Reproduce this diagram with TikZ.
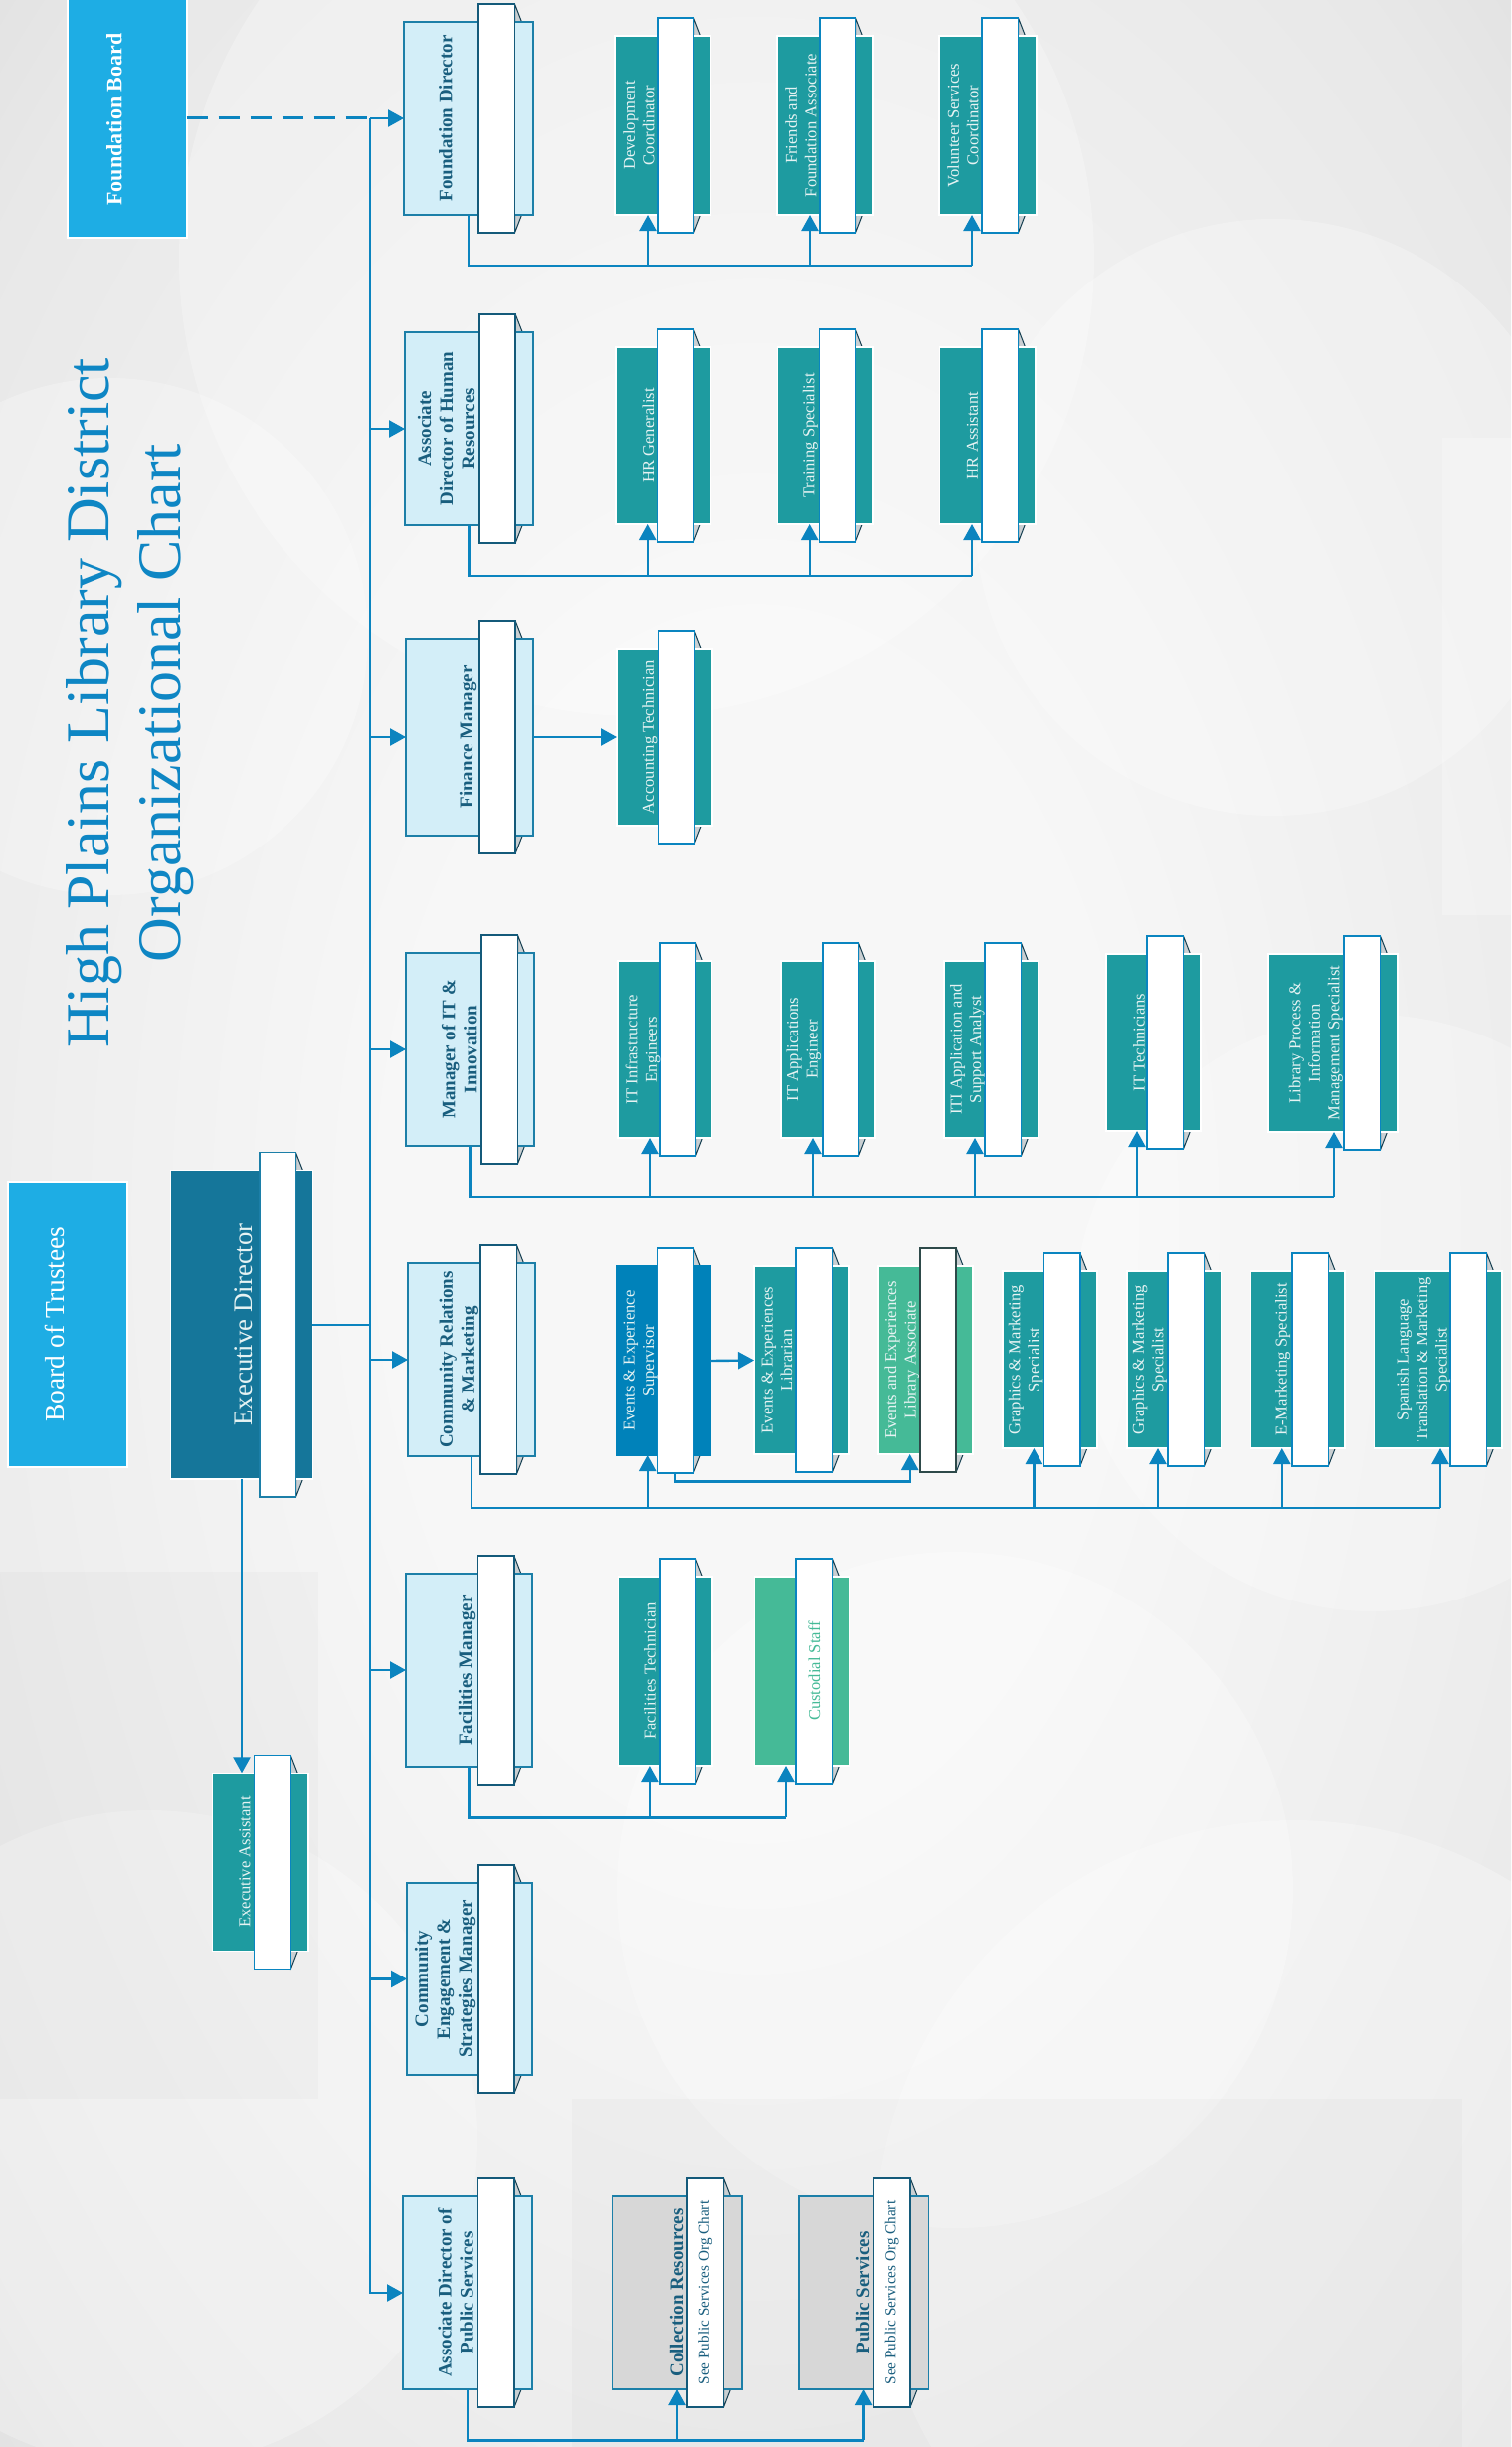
\documentclass[tikz,border=0pt]{standalone}
\usepackage{fontspec}
\setmainfont{Liberation Serif}
\usetikzlibrary{arrows.meta}
\definecolor{cLine}{HTML}{0B84BF}
\definecolor{cMgrFill}{HTML}{D3EEF8}
\definecolor{cMgrDraw}{HTML}{1C7FA8}
\definecolor{cMgrWhite}{HTML}{145A7A}
\definecolor{cMgrText}{HTML}{195E7E}
\definecolor{cTeal}{HTML}{1E9BA0}
\definecolor{cSubText}{HTML}{E6F3F3}
\definecolor{cBlueW}{HTML}{0A85C0}
\definecolor{cSup}{HTML}{0082BA}
\definecolor{cGreen}{HTML}{45BA97}
\definecolor{cDarkW}{HTML}{2E4A4A}
\definecolor{cGray}{HTML}{D7D7D7}
\definecolor{cSky}{HTML}{1EADE4}
\definecolor{cED}{HTML}{15769A}
\definecolor{cTitle}{HTML}{0E86C4}
\definecolor{cSide}{HTML}{C9CFD2}
\definecolor{cSideLine}{HTML}{143E50}
\definecolor{bgin}{HTML}{F7F7F7}
\definecolor{bgmid}{HTML}{E8E8E8}
\definecolor{bgout}{HTML}{CDCDCD}
\pgfdeclareradialshading{bgshade}{\pgfpoint{0bp}{0bp}}{color(0bp)=(bgin); color(12bp)=(bgin); color(32bp)=(bgmid); color(50bp)=(bgout)}
% #1 name, #2 kind, #3 x1, #4 y1, #5 x2, #6 y2, #7 white x1, #8 text x, #9 text
\newcommand{\orgunit}[9]{%
  \draw[side] ({#7+36.5},{#4-18}) -- ({#7+43.5},{#4}) -- ({#7+43.5},{#6}) -- ({#7+36.5},{#6+18}) -- cycle;
  \node[#2 box, minimum width=(#5-#3)*1pt, minimum height=(#6-#4)*1pt] (#1) at ({(#3+#5)/2},{(#4+#6)/2}) {};
  \node[#2 white, minimum width=36.5pt, minimum height=(#6-#4+36)*1pt] (#1-w) at ({#7+18.25},{(#4+#6)/2}) {};
  \node[#2 text, rotate=90] (#1-t) at ({#8},{(#4+#6)/2}) {#9};
  \coordinate (#1-a) at ({#7-10},{#6});
}
\begin{document}
\begin{tikzpicture}[x=1pt,y=-1pt,
  box base/.style={inner sep=0pt, outer sep=0pt},
  mgr box/.style={box base, fill=cMgrFill, draw=cMgrDraw, line width=1.4pt},
  mgr white/.style={box base, fill=white, draw=cMgrWhite, line width=1.6pt},
  mgr text/.style={text=cMgrText, font=\fontsize{19}{22}\selectfont\bfseries, align=center, inner sep=0pt},
  sub box/.style={box base, fill=cTeal, draw=white, line width=1.3pt},
  sub white/.style={box base, fill=white, draw=cBlueW, line width=1.4pt},
  sub text/.style={text=cSubText, font=\fontsize{16.6}{19.5}\selectfont, align=center, inner sep=0pt},
  sup box/.style={box base, fill=cSup, draw=cSup, line width=1.3pt},
  sup white/.style={sub white},
  sup text/.style={sub text},
  grn box/.style={box base, fill=cGreen, draw=white, line width=1.3pt},
  grn white/.style={sub white},
  grn text/.style={sub text, text=cGreen},
  grnd box/.style={grn box},
  grnd white/.style={box base, fill=white, draw=cDarkW, line width=1.8pt},
  grnd text/.style={sub text},
  gray box/.style={box base, fill=cGray, draw=cMgrDraw, line width=1.4pt},
  gray white/.style={mgr white},
  gray text/.style={mgr text},
  ed box/.style={box base, fill=cED, draw=white, line width=1.5pt},
  ed white/.style={box base, fill=white, draw=cMgrDraw, line width=1.2pt},
  ed text/.style={text=cSubText, font=\fontsize{26.8}{30}\selectfont, align=center, inner sep=0pt},
  sky box/.style={box base, fill=cSky, draw=white, line width=2pt},
  note text/.style={text=cMgrText, font=\fontsize{15.2}{18}\selectfont, inner sep=0pt},
  side/.style={fill=cSide, draw=cSideLine, line width=1pt, line join=round},
  conn/.style={draw=cLine, line width=2.4pt},
  arr/.style={conn, -{Triangle[length=16pt,width=17pt]}},
  dashline/.style={conn, dash pattern=on 21pt off 11pt},
  title/.style={text=cTitle, font=\fontsize{62}{71.7}\selectfont, align=center, inner sep=0pt},
  bubble/.style={fill=white, fill opacity=0.25, draw=none},
  shadowbubble/.style={fill=black, fill opacity=0.02, draw=none}
]
\useasboundingbox (0,0) rectangle (1519,2460);
% background
\shade[shading=bgshade] (0,0) rectangle (1519,2460);
\fill[bubble] (640,260) circle (460);
\fill[bubble] (1280,520) circle (300);
\fill[bubble] (110,640) circle (260);
\fill[bubble] (1380,1320) circle (300);
\fill[bubble] (960,1900) circle (340);
\fill[bubble] (1300,2250) circle (420);
\fill[bubble] (150,2150) circle (330);
\fill[bubble] (1450,440) rectangle (1519,920);
\fill[shadowbubble] (575,2110) rectangle (1470,2460);
\fill[shadowbubble] (0,1580) rectangle (320,2110);

% title
\node[title, rotate=90] (title) at (131,707) {High Plains Library District\\Organizational Chart};

% boards
\node[sky box, minimum width=119.5pt, minimum height=241pt] (fb) at (127.75,118.5) {};
\node[rotate=90, text=white, font=\fontsize{22}{26}\selectfont\bfseries, inner sep=0pt] (fb-t) at (115,120) {Foundation Board};
\node[sky box, minimum width=119.4pt, minimum height=287pt] (bot) at (68,1331.5) {};
\node[rotate=90, text=white, font=\fontsize{27.5}{30}\selectfont, inner sep=0pt] (bot-t) at (54.5,1331.5) {Board of Trustees};

% executive
\orgunit{ed}{ed}{171.7}{1176.7}{314.3}{1487}{261}{245}{Executive Director}
\orgunit{ea}{sub}{213.3}{1782.3}{310}{1961.7}{255.7}{246}{Executive Assistant}

% managers
\orgunit{fd}{mgr}{406}{22}{536}{216}{481}{448}{Foundation Director}
\orgunit{hr}{mgr}{407}{334}{536}{528}{481.7}{448.7}{Associate\\Director of Human\\Resources}
\orgunit{fm}{mgr}{408}{642}{536}{840}{481.7}{470.5}{Finance Manager}
\orgunit{it}{mgr}{408}{958}{537}{1152}{484}{461.7}{Manager of IT \&\\Innovation}
\orgunit{cr}{mgr}{410}{1270}{538}{1464}{483}{461.4}{Community Relations\\\& Marketing}
\orgunit{fac}{mgr}{408}{1582}{535}{1776}{480.4}{469.5}{Facilities Manager}
\orgunit{ces}{mgr}{409}{1893}{535}{2086}{480.7}{447.5}{Community\\Engagement \&\\Strategies Manager}
\orgunit{adps}{mgr}{405}{2208}{535}{2402}{480.6}{458}{Associate Director of\\Public Services}

% foundation staff
\orgunit{dc}{sub}{618}{36}{714.6}{216}{661}{642}{Development\\Coordinator}
\orgunit{ffa}{sub}{781}{36}{878}{216}{824}{805}{Friends and\\Foundation Associate}
\orgunit{vsc}{sub}{944}{36}{1042}{216}{987}{968}{Volunteer Services\\Coordinator}
% HR staff
\orgunit{hrg}{sub}{619}{349}{714.5}{527}{660.7}{651.5}{HR Generalist}
\orgunit{trs}{sub}{781.5}{349}{878}{527}{823.7}{814.5}{Training Specialist}
\orgunit{hra}{sub}{944.5}{349}{1041}{527}{987}{977.5}{HR Assistant}
% finance
\orgunit{act}{sub}{620}{652}{716}{830}{661.7}{653}{Accounting Technician}
% IT
\orgunit{iti}{sub}{621}{966}{715.7}{1144}{663}{646}{IT Infrastructure\\Engineers}
\orgunit{ita}{sub}{785}{966}{880}{1144}{827}{808}{IT Applications\\Engineer}
\orgunit{itsa}{sub}{949}{966}{1044}{1144}{990}{972.5}{ITI Application and\\Support Analyst}
\orgunit{itt}{sub}{1112}{959}{1207}{1137}{1153}{1145}{IT Technicians}
\orgunit{lpim}{sub}{1275}{959}{1405}{1138}{1351}{1323}{Library Process \&\\Information\\Management Specialist}
% community relations
\orgunit{sup}{sup}{619.6}{1273}{714}{1463}{660.7}{643.5}{Events \& Experience\\Supervisor}
\orgunit{lib}{sub}{758}{1273}{853}{1462}{800}{781}{Events \& Experiences\\Librarian}
\orgunit{lea}{grnd}{883}{1273}{978}{1462}{924.7}{907}{Events and Experiences\\Library Associate}
\orgunit{gmsa}{sub}{1008}{1278}{1103}{1456}{1049.4}{1031}{Graphics \& Marketing\\Specialist}
\orgunit{gmsb}{sub}{1133}{1278}{1227.6}{1456}{1174}{1155.7}{Graphics \& Marketing\\Specialist}
\orgunit{ems}{sub}{1257.7}{1278}{1352}{1456}{1298.8}{1289.6}{E-Marketing Specialist}
\orgunit{slt}{sub}{1381.6}{1278}{1510}{1456}{1458}{1431}{Spanish Language\\Translation \& Marketing\\Specialist}
% facilities
\orgunit{fact}{sub}{621.4}{1585}{716}{1775}{662.9}{653}{Facilities Technician}
\orgunit{cust}{grn}{758.6}{1585}{853.2}{1775}{800}{818.4}{Custodial Staff}
% public services
\orgunit{col}{gray}{615.6}{2208}{745.8}{2402}{691}{680.7}{Collection Resources}
\node[note text, rotate=90] (col-n) at (col-w) {See Public Services Org Chart};
\orgunit{pub}{gray}{803}{2208}{933.3}{2402}{878.6}{867.7}{Public Services}
\node[note text, rotate=90] (pub-n) at (pub-w) {See Public Services Org Chart};

% ---- connectors ----
\coordinate (trunk) at (372,118.5);
\draw[dashline] (fb.east) -- (fb.east -| trunk);
\draw[arr] (trunk) |- (adps.west);
\foreach \m in {fd,hr,fm,it,cr,fac,ces} \draw[arr] (\m.west -| trunk) -- (\m.west);
\draw[conn] (ed.east) -- (ed.east -| trunk);
\draw[arr] (ed.south) -- (ed.south |- ea.north);

\coordinate (fdbus) at (0,267);
\draw[conn] (fd.south) -- (fd.south |- fdbus) -- (vsc-a |- fdbus);
\foreach \s in {dc,ffa,vsc} \draw[arr] (\s-a |- fdbus) -- (\s-a);

\coordinate (hrbus) at (0,579);
\draw[conn] (hr.south) -- (hr.south |- hrbus) -- (hra-a |- hrbus);
\foreach \s in {hrg,trs,hra} \draw[arr] (\s-a |- hrbus) -- (\s-a);

\draw[arr] (fm.east) -- (act.west);

\coordinate (itbus) at (0,1203);
\draw[conn] (it.south) -- (it.south |- itbus) -- (lpim-a |- itbus);
\foreach \s in {iti,ita,itsa,itt,lpim} \draw[arr] (\s-a |- itbus) -- (\s-a);

\coordinate (crbus) at (0,1515.7);
\draw[conn] (cr.south) -- (cr.south |- crbus) -- (slt-a |- crbus);
\foreach \s in {sup,gmsa,gmsb,ems,slt} \draw[arr] (\s-a |- crbus) -- (\s-a);
\draw[arr] (sup.east) -- (lib.west);
\coordinate (supbus) at (0,1489.3);
\draw[arr] (sup-w.south) -- (sup-w.south |- supbus) -- (lea-a |- supbus) -- (lea-a);

\coordinate (facbus) at (0,1827.3);
\draw[conn] (fac.south) -- (fac.south |- facbus) -- (cust-a |- facbus);
\foreach \s in {fact,cust} \draw[arr] (\s-a |- facbus) -- (\s-a);

\coordinate (psbus) at (0,2453.3);
\draw[conn] (adps.south) -- (adps.south |- psbus) -- (pub-a |- psbus);
\foreach \s in {col,pub} \draw[arr] (\s-a |- psbus) -- (\s-a);
\end{tikzpicture}
\end{document}
